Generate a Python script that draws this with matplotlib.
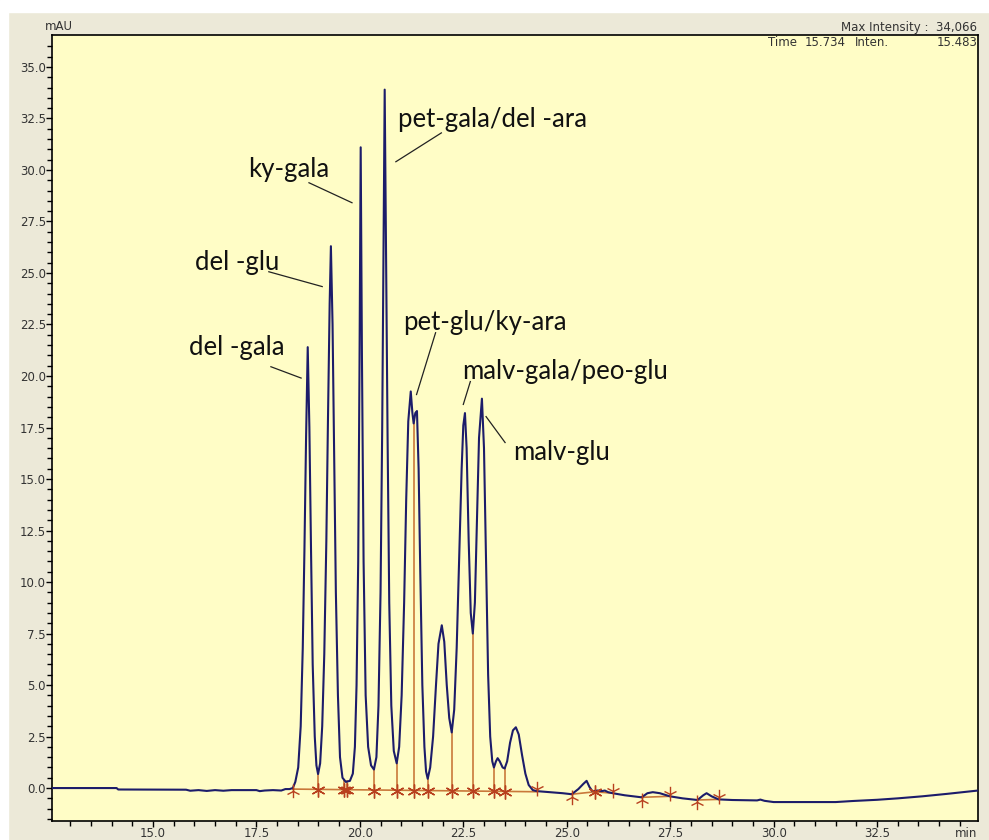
import numpy as np
import matplotlib.pyplot as plt
import matplotlib.patches as mpatches

# chromatogram trace (time in min, signal in mAU)
trace_t = [12.56, 14.12, 14.16, 15.80, 15.90, 16.10, 16.30, 16.50, 16.70, 16.90, 17.50, 17.58, 17.70, 17.90, 18.10, 18.20, 18.30, 18.38,
           18.44, 18.51, 18.57, 18.62, 18.66, 18.70, 18.74, 18.78, 18.82, 18.86, 18.91, 18.95, 18.99,
           19.04, 19.09, 19.14, 19.19, 19.23, 19.27, 19.30, 19.34, 19.38, 19.42, 19.47, 19.52, 19.58, 19.66, 19.76, 19.83,
           19.88, 19.92, 19.96, 19.99, 20.02, 20.05, 20.09, 20.14, 20.20, 20.27, 20.34,
           20.40, 20.45, 20.50, 20.54, 20.57, 20.60, 20.63, 20.67, 20.71, 20.76, 20.82, 20.89,
           20.95, 21.01, 21.07, 21.12, 21.17, 21.23, 21.27, 21.30, 21.34, 21.38, 21.42, 21.46, 21.51, 21.56, 21.60, 21.64,
           21.70, 21.77, 21.84, 21.90, 21.98, 22.04, 22.10, 22.16, 22.22,
           22.28, 22.34, 22.40, 22.46, 22.50, 22.54, 22.58, 22.63, 22.68, 22.73,
           22.78, 22.83, 22.88, 22.95, 23.00, 23.05, 23.10, 23.15, 23.20, 23.24, 23.29, 23.33, 23.38, 23.45, 23.50,
           23.56, 23.63, 23.70, 23.77, 23.84, 23.92, 24.00, 24.08, 24.18, 24.28,
           24.60, 24.90, 25.12, 25.28, 25.40, 25.48, 25.55, 25.62, 25.75, 25.85, 25.92, 26.00, 26.11,
           26.40, 26.81, 26.95, 27.08, 27.25, 27.49, 27.80, 28.16, 28.30, 28.38, 28.50, 28.67,
           29.00, 29.60, 29.68, 29.78, 30.00, 31.50, 31.90, 32.50, 33.00, 33.60, 34.20, 34.94]
trace_v = [0.0, 0.0, -0.07, -0.08, -0.13, -0.10, -0.14, -0.10, -0.13, -0.10, -0.10, -0.15, -0.12, -0.10, -0.12, -0.05, -0.05, 0.0,
           0.3, 1.0, 3.0, 6.8, 11.5, 17.0, 21.4, 17.5, 11.5, 6.0, 2.5, 1.1, 0.68,
           1.2, 3.0, 6.5, 12.0, 18.0, 23.5, 26.3, 22.5, 16.0, 9.5, 4.5, 1.5, 0.5, 0.3, 0.35, 0.7,
           2.0, 5.0, 11.0, 20.0, 31.1, 21.0, 11.0, 4.5, 2.0, 1.1, 0.9,
           1.5, 4.0, 9.5, 17.5, 26.0, 33.9, 26.5, 17.0, 9.0, 4.0, 1.8, 1.2,
           2.0, 4.5, 9.0, 14.0, 17.8, 19.25, 18.2, 17.7, 18.2, 18.3, 15.5, 10.5, 5.0, 2.0, 0.8, 0.45,
           1.0, 2.5, 5.0, 7.0, 7.9, 7.1, 5.0, 3.4, 2.7,
           3.8, 6.8, 11.2, 15.5, 17.6, 18.2, 16.5, 12.0, 8.5, 7.5,
           9.0, 13.0, 17.0, 18.9, 16.5, 11.0, 5.5, 2.5, 1.3, 1.0, 1.3, 1.45, 1.3, 1.0, 0.95,
           1.3, 2.2, 2.8, 2.95, 2.6, 1.6, 0.7, 0.15, -0.10, -0.15,
           -0.20, -0.25, -0.30, -0.05, 0.20, 0.35, 0.05, -0.15, -0.12, -0.15, -0.12, -0.20, -0.25,
           -0.35, -0.45, -0.25, -0.20, -0.25, -0.40, -0.50, -0.58, -0.35, -0.25, -0.40, -0.55,
           -0.58, -0.60, -0.56, -0.62, -0.68, -0.68, -0.63, -0.57, -0.50, -0.40, -0.28, -0.12]

# integration baselines (start/end points) and peak splits
base_t = [[18.38, 24.28], [25.12, 25.68, 26.11], [26.81, 27.49], [28.16, 28.67]]
base_v = [[-0.05, -0.18], [-0.30, -0.18, -0.25], [-0.45, -0.40], [-0.58, -0.55]]
split_t = [18.99, 19.62, 19.70, 20.34, 20.89, 21.30, 21.64, 22.22, 22.73, 23.24, 23.50]
start_t = [18.38, 25.12, 26.81, 28.16]
end_t = [24.28, 26.11, 27.49, 28.67]

# peak names, label position and leader line ends
labels = ["del -gala", "del -glu", "ky-gala", "pet-gala/del -ara", "pet-glu/ky-ara", "malv-gala/peo-glu", "malv-glu"]
label_xy = [(17.03, 21.4), (17.03, 25.5), (18.29, 30.0), (23.21, 32.45), (23.02, 22.6), (24.95, 20.2), (24.88, 16.3)]
leader_t = [(17.85, 18.58), (17.80, 19.09), (18.77, 19.81), (21.97, 20.87), (21.83, 21.37), (22.67, 22.50), (23.05, 23.51)]
leader_v = [(20.45, 19.90), (25.06, 24.34), (29.38, 28.41), (31.80, 30.40), (22.10, 19.10), (19.73, 18.62), (18.03, 16.77)]

xticks = [15.0, 17.5, 20.0, 22.5, 25.0, 27.5, 30.0, 32.5]
yticks = [0.0, 2.5, 5.0, 7.5, 10.0, 12.5, 15.0, 17.5, 20.0, 22.5, 25.0, 27.5, 30.0, 32.5, 35.0]

fig = plt.figure(figsize=(9.89, 8.4), dpi=100, facecolor="#ECE9D8")
# white strips of the screenshot border
fig.patches.append(mpatches.Rectangle((0, 0.986), 1, 0.014, transform=fig.transFigure, color="white", zorder=0))
fig.patches.append(mpatches.Rectangle((0, 0), 0.008, 1, transform=fig.transFigure, color="white", zorder=0))

ax = fig.add_axes([0.0526, 0.0226, 0.9363, 0.9357])
ax.set_facecolor("#FFFDC6")
ax.set_xlim(12.56, 34.94)
ax.set_ylim(-1.6, 36.55)

brown = "#C9783A"
star = "#B8401E"
for bt, bv in zip(base_t, base_v):
    ax.plot(bt, bv, color=brown, lw=1.2, zorder=2)

tr_t = np.array(trace_t)
tr_v = np.array(trace_v)
for st in split_t:
    b = -0.1 - 0.08 * (st - 18.38) / 5.9
    top = np.interp(st, tr_t, tr_v)
    ax.plot([st, st], [b, top], color=brown, lw=1.2, zorder=2)
    ax.plot(st, b, marker=(6, 2, 0), ms=10, color=star, mew=1.0, zorder=4)
ax.plot(25.68, -0.2, marker=(6, 2, 0), ms=10, color=star, mew=1.0, zorder=4)
ax.plot([25.68, 25.68], [-0.2, -0.12], color=brown, lw=1.2, zorder=2)

for st in start_t:
    y0 = np.interp(st, tr_t, tr_v)
    ax.plot(st, y0 - 0.12, marker="2", ms=10, color=star, mew=1.0, zorder=4)
    ax.plot([st, st], [y0 - 0.45, y0], color=star, lw=1.0, zorder=4)
for st in end_t:
    y0 = np.interp(st, tr_t, tr_v)
    ax.plot(st, y0 + 0.12, marker="1", ms=10, color=star, mew=1.0, zorder=4)
    ax.plot([st, st], [y0, y0 + 0.45], color=star, lw=1.0, zorder=4)

ax.plot(tr_t, tr_v, color="#1C1C6A", lw=1.5, zorder=3)

for name, (lx, ly), lt, lv in zip(labels, label_xy, leader_t, leader_v):
    ax.text(lx, ly, name, fontsize=18.5, family="Lato", color="#111111", ha="center", va="center")
    ax.plot(lt, lv, color="#222222", lw=0.9, zorder=3)

ax.set_xticks(xticks)
ax.set_xticklabels([f"{v:.1f}" for v in xticks])
ax.set_yticks(yticks)
ax.set_yticklabels([f"{v:.1f}" for v in yticks])
ax.set_xticks(np.arange(13.0, 35.0, 0.5), minor=True)
ax.set_yticks(np.arange(-1.5, 36.5, 0.5), minor=True)
ax.tick_params(which="major", direction="out", length=4.5, width=1, labelsize=8.5, labelcolor="#333333", pad=0)
ax.tick_params(which="minor", direction="out", length=3.5, width=1)
for s in ax.spines.values():
    s.set_linewidth(1.2)

fig.text(0.0455, 0.961, "mAU", fontsize=8.5, color="#333333", ha="left", va="bottom")
ax.text(34.66, -1.9, "min", fontsize=8.5, color="#333333", ha="center", va="top")
fig.text(0.988, 0.9667, "Max Intensity :  34,066", fontsize=8.5, color="#333333", ha="right", va="center")
fig.text(0.777, 0.950, "Time", fontsize=8.5, color="#333333", ha="left", va="center")
fig.text(0.814, 0.950, "15.734", fontsize=8.5, color="#333333", ha="left", va="center")
fig.text(0.864, 0.950, "Inten.", fontsize=8.5, color="#333333", ha="left", va="center")
fig.text(0.988, 0.950, "15.483", fontsize=8.5, color="#333333", ha="right", va="center")

fig.savefig("out.png", dpi=100, facecolor=fig.get_facecolor())
